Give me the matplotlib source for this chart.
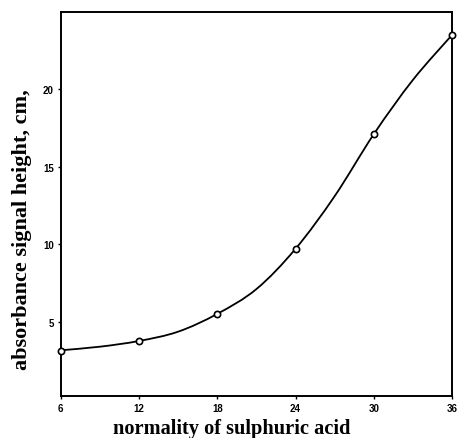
import matplotlib
matplotlib.use("Agg")
import matplotlib.pyplot as plt
from matplotlib.path import Path
from matplotlib.patches import PathPatch

# measured points
normality = [6, 12, 18, 24, 30, 36]
signal_height = [3.13, 3.73, 5.5, 9.7, 17.1, 23.5]

# hand-drawn smooth curve
curve_x = [6, 9, 12, 15, 18, 21, 24, 27, 30, 33, 36]
curve_y = [3.15, 3.38, 3.75, 4.35, 5.5, 7.1, 9.7, 13.1, 17.1, 20.6, 23.5]

x_ticks = [6, 12, 18, 24, 30, 36]
y_ticks = [5, 10, 15, 20]


def smooth_path(xs, ys):
    # Catmull-Rom through the read points, as cubic bezier segments
    pts = list(zip(xs, ys))
    verts = [pts[0]]
    codes = [Path.MOVETO]
    for i in range(len(pts) - 1):
        p0 = pts[i - 1] if i > 0 else pts[i]
        p1, p2 = pts[i], pts[i + 1]
        p3 = pts[i + 2] if i + 2 < len(pts) else pts[i + 1]
        c1 = (p1[0] + (p2[0] - p0[0]) / 6, p1[1] + (p2[1] - p0[1]) / 6)
        c2 = (p2[0] - (p3[0] - p1[0]) / 6, p2[1] - (p3[1] - p1[1]) / 6)
        verts += [c1, c2, p2]
        codes += [Path.CURVE4] * 3
    return Path(verts, codes)


fig = plt.figure(figsize=(4.6, 4.39), dpi=100)
ax = fig.add_axes([0.132, 0.0964, 0.851, 0.875])

ax.add_patch(PathPatch(smooth_path(curve_x, curve_y), fill=False,
                       edgecolor="black", lw=1.3, zorder=2))
ax.plot(normality, signal_height, "o", ms=4.5, mfc="white", mec="black",
        mew=1.2, clip_on=False, zorder=3)

ax.set_xlim(6, 36)
ax.set_ylim(0.22, 25.0)
ax.set_xticks(x_ticks)
ax.set_yticks(y_ticks)
for s in ax.spines.values():
    s.set_linewidth(1.4)
ax.tick_params(direction="out", length=2, width=1, labelsize=7, pad=3)
for lab in ax.get_xticklabels() + ax.get_yticklabels():
    lab.set_fontweight("bold")
    lab.set_family("Liberation Sans")

ax.set_xlabel("normality of sulphuric acid", family="Liberation Serif",
              fontweight="bold", fontsize=14.7)
ax.set_ylabel("absorbance signal height, cm,", family="Liberation Serif",
              fontweight="bold", fontsize=16)
ax.xaxis.set_label_coords(0.436, -0.085)
ax.yaxis.set_label_coords(-0.1, 0.434)
ax.xaxis.label.set_va("center")
ax.yaxis.label.set_va("center")

fig.savefig("out.png", dpi=100)
